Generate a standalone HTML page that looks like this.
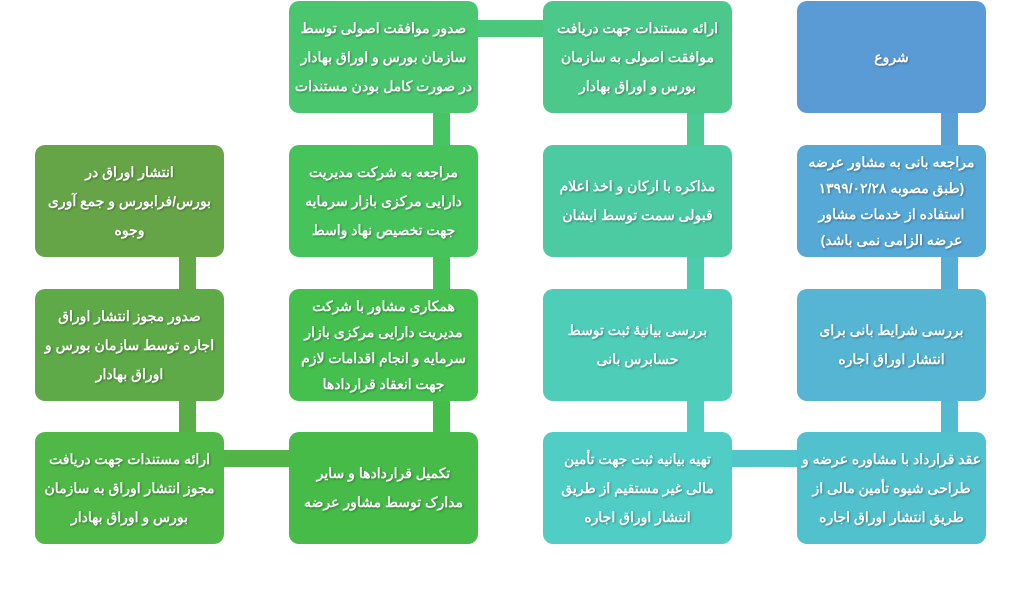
<!DOCTYPE html>
<html><head><meta charset="utf-8"><style>
body{margin:0;width:1024px;height:592px;background:#fff;position:relative;overflow:hidden}
.b{position:absolute;width:189px;height:112px;border-radius:10px;display:flex;align-items:center;justify-content:center;text-align:center;color:#fff;font-family:"Liberation Sans","Noto Sans CJK SC",sans-serif;font-weight:bold;font-size:14px;line-height:29px;direction:rtl;text-shadow:1px 1px 2px rgba(0,0,0,.35);padding:0 2px;box-sizing:border-box;white-space:nowrap}
.f{line-height:26px}
.c{position:absolute}
</style></head><body>
<div class="c" style="left:941px;top:113px;width:17px;height:33px;background:#5aa2d5"></div>
<div class="c" style="left:941px;top:256px;width:17px;height:34px;background:#55aed4"></div>
<div class="c" style="left:941px;top:399px;width:17px;height:34px;background:#53bbd0"></div>
<div class="c" style="left:732px;top:450px;width:66px;height:17px;background:#51c6ca"></div>
<div class="c" style="left:687px;top:399px;width:17px;height:34px;background:#4fcdbe"></div>
<div class="c" style="left:687px;top:256px;width:17px;height:34px;background:#4dccad"></div>
<div class="c" style="left:687px;top:113px;width:17px;height:33px;background:#4cca96"></div>
<div class="c" style="left:477px;top:20px;width:67px;height:17px;background:#4bc77c"></div>
<div class="c" style="left:433px;top:113px;width:17px;height:33px;background:#48c465"></div>
<div class="c" style="left:433px;top:256px;width:17px;height:34px;background:#46c156"></div>
<div class="c" style="left:433px;top:399px;width:17px;height:34px;background:#45bd4b"></div>
<div class="c" style="left:223px;top:450px;width:67px;height:17px;background:#52b447"></div>
<div class="c" style="left:179px;top:399px;width:17px;height:34px;background:#5bad48"></div>
<div class="c" style="left:179px;top:256px;width:17px;height:34px;background:#62a847"></div>

<div class="b" style="left:797px;top:1px;background:#5b9bd5">شروع</div>
<div class="b f" style="left:797px;top:145px;background:#56a8d6"><div>مراجعه بانی به مشاور عرضه<br>(طبق مصوبه ۱۳۹۹/۰۲/۲۸<br>استفاده از خدمات مشاور<br>عرضه الزامی نمی باشد)</div></div>
<div class="b" style="left:797px;top:289px;background:#55b5d2"><div>بررسی شرایط بانی برای<br>انتشار اوراق اجاره</div></div>
<div class="b" style="left:797px;top:432px;background:#52c1ce"><div>عقد قرارداد با مشاوره عرضه و<br>طراحی شیوه تأمین مالی از<br>طریق انتشار اوراق اجاره</div></div>

<div class="b" style="left:543px;top:1px;background:#4cc98a"><div>ارائه مستندات جهت دریافت<br>موافقت اصولی به سازمان<br>بورس و اوراق بهادار</div></div>
<div class="b" style="left:543px;top:145px;background:#4ccba3"><div>مذاکره با ارکان و اخذ اعلام<br>قبولی سمت توسط ایشان</div></div>
<div class="b" style="left:543px;top:289px;background:#4ecdb8"><div>بررسی بیانیهٔ ثبت توسط<br>حسابرس بانی</div></div>
<div class="b" style="left:543px;top:432px;background:#50cdc5"><div>تهیه بیانیه ثبت جهت تأمین<br>مالی غیر مستقیم از طریق<br>انتشار اوراق اجاره</div></div>

<div class="b" style="left:289px;top:1px;background:#4ac66e"><div>صدور موافقت اصولی توسط<br>سازمان بورس و اوراق بهادار<br>در صورت کامل بودن مستندات</div></div>
<div class="b" style="left:289px;top:145px;background:#47c35c"><div>مراجعه به شرکت مدیریت<br>دارایی مرکزی بازار سرمایه<br>جهت تخصیص نهاد واسط</div></div>
<div class="b f" style="left:289px;top:289px;background:#45c04f"><div>همکاری مشاور با شرکت<br>مدیریت دارایی مرکزی بازار<br>سرمایه  و انجام اقدامات لازم<br>جهت انعقاد قراردادها</div></div>
<div class="b" style="left:289px;top:432px;background:#46bb48"><div>تکمیل قراردادها و سایر<br>مدارک توسط مشاور عرضه</div></div>

<div class="b" style="left:35px;top:145px;background:#66a547"><div>انتشار اوراق در<br>بورس/فرابورس و جمع آوری<br>وجوه</div></div>
<div class="b" style="left:35px;top:289px;background:#5eaa48"><div>صدور مجوز انتشار اوراق<br>اجاره توسط سازمان بورس و<br>اوراق بهادار</div></div>
<div class="b" style="left:35px;top:432px;background:#4fb847"><div>ارائه مستندات جهت دریافت<br>مجوز انتشار اوراق به سازمان<br>بورس و اوراق بهادار</div></div>
</body></html>
